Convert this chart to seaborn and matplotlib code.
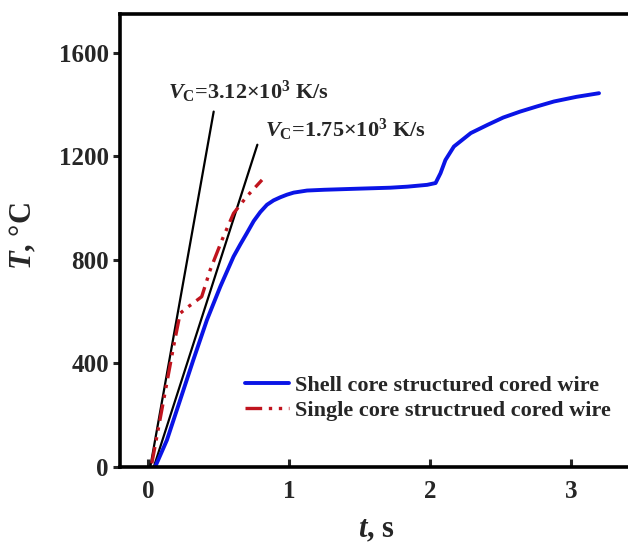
import numpy as np
import pandas as pd
import matplotlib
matplotlib.use("Agg")
import matplotlib.pyplot as plt
import seaborn as sns

# ---- data ----
shell_t = [0.05, 0.133, 0.227, 0.32, 0.417, 0.512, 0.606, 0.654, 0.70, 0.749, 0.796,
           0.843, 0.89, 0.938, 0.985, 1.033, 1.128, 1.25, 1.365, 1.48, 1.60, 1.72, 1.84,
           1.98, 2.04, 2.075, 2.11, 2.17, 2.29, 2.41, 2.52, 2.64, 2.76, 2.88, 3.04, 3.2]
shell_T = [1, 104, 259, 413, 568, 697, 813, 860, 903, 950, 985,
           1013, 1030, 1042, 1052, 1060, 1068, 1071, 1073, 1075, 1077, 1079, 1083,
           1090, 1097, 1135, 1186, 1238, 1290, 1322, 1350, 1373, 1393, 1412, 1430, 1444]

single_t = [0.026, 0.11, 0.18, 0.227, 0.287, 0.38, 0.44, 0.524, 0.606, 0.70, 0.808]
single_T = [14, 259, 465, 594, 620, 658, 761, 877, 980, 1045, 1109]

tangent1_t = [0.015, 0.465]
tangent1_T = [0, 1373]
tangent2_t = [0.04, 0.775]
tangent2_T = [0, 1245]

x_ticks = [0, 1, 2, 3]
y_ticks = [0, 400, 800, 1200, 1600]

legend_labels = ["Shell core structured cored wire", "Single core structrued cored wire"]
label1 = r"$\mathit{V}_{\mathrm{C}}$=3.12×10$^{3}$ K/s"
label2 = r"$\mathit{V}_{\mathrm{C}}$=1.75×10$^{3}$ K/s"

# ---- style ----
sns.set_theme(style="ticks")
plt.rcParams["font.family"] = ["Liberation Serif", "DejaVu Serif"]
plt.rcParams["font.weight"] = "bold"
plt.rcParams["mathtext.fontset"] = "custom"
plt.rcParams["mathtext.rm"] = "Liberation Serif:bold"
plt.rcParams["mathtext.it"] = "Liberation Serif:italic:bold"
plt.rcParams["mathtext.bf"] = "Liberation Serif:bold"

fig = plt.figure(figsize=(6.28, 5.43), dpi=100)
ax = fig.add_axes([120 / 628, (543 - 467) / 543, 510 / 628, (467 - 14) / 543])

df_shell = pd.DataFrame({"t": shell_t, "T": shell_T})
df_single = pd.DataFrame({"t": single_t, "T": single_T})

sns.lineplot(data=pd.DataFrame({"t": tangent1_t, "T": tangent1_T}), x="t", y="T",
             ax=ax, color="black", linewidth=1.6, sort=False, estimator=None)
sns.lineplot(data=pd.DataFrame({"t": tangent2_t, "T": tangent2_T}), x="t", y="T",
             ax=ax, color="black", linewidth=1.6, sort=False, estimator=None)
sns.lineplot(data=df_shell, x="t", y="T", ax=ax, color="#0a14e6", linewidth=2.8,
             sort=False, estimator=None, label=legend_labels[0])
sns.lineplot(data=df_single, x="t", y="T", ax=ax, color="#c0141e", linewidth=2.4,
             sort=False, estimator=None, label=legend_labels[1],
             dashes=False, linestyle=(0, (5, 2, 1, 2, 1, 2)))

ax.set_xlim(-0.2, 3.42)
ax.set_ylim(0, 1750)
ax.set_xticks(x_ticks)
ax.set_yticks(y_ticks)
ax.set_xticklabels([str(v) for v in x_ticks])
ax.set_yticklabels([str(v) for v in y_ticks])

for s in ["left", "bottom", "top"]:
    ax.spines[s].set_linewidth(2.6)
    ax.spines[s].set_color("black")
ax.spines["right"].set_visible(False)

ax.tick_params(axis="x", direction="in", length=6, width=2.2, labelsize=18, pad=9)
ax.tick_params(axis="y", direction="out", length=5, width=2.2, labelsize=18, pad=3)
for lab in ax.get_xticklabels() + ax.get_yticklabels():
    lab.set_fontweight("bold")

ax.set_xlabel(r"$\mathit{t}$, s", fontsize=22, fontweight="bold")
ax.set_ylabel(r"$\mathit{T}$, °C", fontsize=22, fontweight="bold")
ax.xaxis.set_label_coords((376 - 120) / 510, -(515 - 467) / 453)
ax.yaxis.set_label_coords(-(120 - 38) / 510, (467 - 236) / 453)

ax.text(0.14, 1449, label1, fontsize=16, fontweight="bold", va="center", ha="left")
ax.text(0.83, 1302, label2, fontsize=16, fontweight="bold", va="center", ha="left")

leg = ax.legend(loc="center left", bbox_to_anchor=((245 - 120) / 510, (467 - 398) / 453),
                frameon=False, handlelength=2.0, handletextpad=0.25,
                labelspacing=0.2, borderpad=0, borderaxespad=0,
                prop={"family": "Liberation Serif", "weight": "bold", "size": 16})

fig.savefig("out.png", dpi=100)
